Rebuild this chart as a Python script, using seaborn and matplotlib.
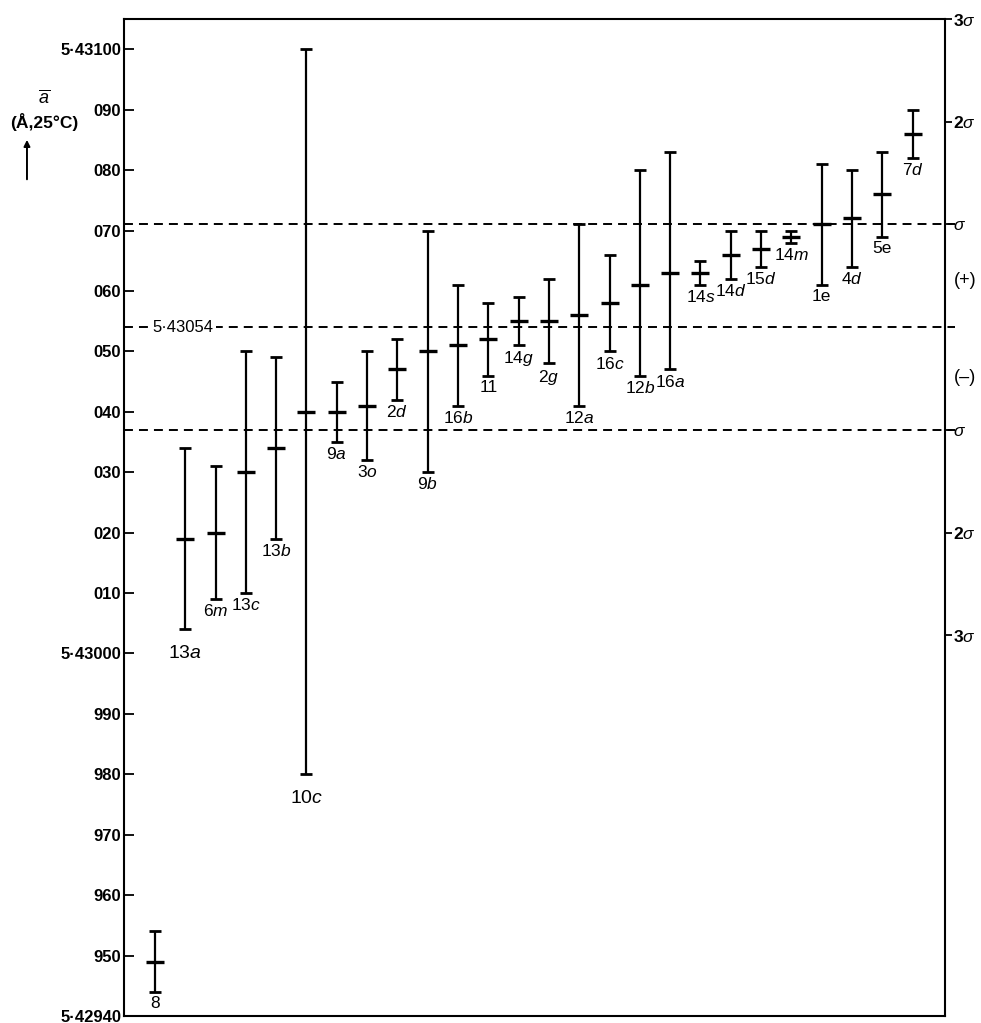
import numpy as np
import pandas as pd
import matplotlib
matplotlib.use("Agg")
import matplotlib.pyplot as plt
import seaborn as sns

# lattice parameter results, in units of 1e-5 A relative to 5.43000
labels = ["8", "13$\\mathit{a}$", "6$\\mathit{m}$", "13$\\mathit{c}$", "13$\\mathit{b}$",
          "10$\\mathit{c}$", "9$\\mathit{a}$", "3$\\mathit{o}$", "2$\\mathit{d}$", "9$\\mathit{b}$",
          "16$\\mathit{b}$", "11", "14$\\mathit{g}$", "2$\\mathit{g}$", "12$\\mathit{a}$",
          "16$\\mathit{c}$", "12$\\mathit{b}$", "16$\\mathit{a}$", "14$\\mathit{s}$", "14$\\mathit{d}$",
          "15$\\mathit{d}$", "14$\\mathit{m}$", "1e", "4$\\mathit{d}$", "5e", "7$\\mathit{d}$"]
mean = [-51, 19, 20, 30, 34, 40, 40, 41, 47, 50, 51, 52, 55, 55, 56, 58, 61, 63, 63, 66, 67, 69, 71, 72, 76, 86]
upper = [-46, 34, 31, 50, 49, 100, 45, 50, 52, 70, 61, 58, 59, 62, 71, 66, 80, 83, 65, 70, 70, 70, 81, 80, 83, 90]
lower = [-56, 4, 9, 10, 19, -20, 35, 32, 42, 30, 41, 46, 51, 48, 41, 50, 46, 47, 61, 62, 64, 68, 61, 64, 69, 82]

ytick_vals = [100, 90, 80, 70, 60, 50, 40, 30, 20, 10, 0, -10, -20, -30, -40, -50, -60]
ytick_labels = ["5·43100", "090", "080", "070", "060", "050", "040", "030", "020", "010",
                "5·43000", "990", "980", "970", "960", "950", "5·42940"]

grand_mean = 54
sigma = 17
sig_vals = [105, 88, 71, 37, 20, 3]
sig_labels = ["3$\\sigma$", "2$\\sigma$", "$\\sigma$", "$\\sigma$", "2$\\sigma$", "3$\\sigma$"]

df = pd.DataFrame({"pos": np.arange(len(mean)), "mean": mean, "upper": upper,
                   "lower": lower, "label": labels})

sns.set_style("white", {"text.color": "black", "axes.edgecolor": "black",
                        "xtick.color": "black", "ytick.color": "black",
                        "axes.labelcolor": "black"})
plt.rcParams["font.family"] = ["Liberation Sans", "DejaVu Sans"]
plt.rcParams["mathtext.fontset"] = "custom"
plt.rcParams["mathtext.rm"] = "Liberation Sans"
plt.rcParams["mathtext.it"] = "Liberation Sans:italic"

fig = plt.figure(figsize=(9.81, 10.23), dpi=100)
ax = fig.add_axes([0.1264, 0.0068, 0.8369, 0.9746])

# error bars
ax.errorbar(df["pos"], df["mean"],
            yerr=[df["mean"] - df["lower"], df["upper"] - df["mean"]],
            fmt="none", ecolor="black", elinewidth=1.6, capsize=4, capthick=2)
sns.scatterplot(data=df, x="pos", y="mean", marker="_", s=180, color="black",
                linewidth=2.4, ax=ax, zorder=3)

# labels under each bar
for i, row in df.iterrows():
    big = row["pos"] in (1, 5)
    ax.annotate(row["label"], xy=(row["pos"], row["lower"]),
                xytext=(0, -11 if big else -3), textcoords="offset points",
                ha="center", va="top", fontsize=14 if big else 12.5, color="black")

# grand mean and +/- sigma lines
for v in [grand_mean + sigma, grand_mean, grand_mean - sigma]:
    ax.axhline(v, xmin=0, xmax=1.012, color="black", lw=1.4,
               dashes=(4.6, 3.1), clip_on=False)
ax.text(-0.08, grand_mean, "5·43054", ha="left", va="center", fontsize=12,
        color="black", bbox=dict(facecolor="white", edgecolor="none", pad=2))

ax.set_xlim(-1.02, 26.07)
ax.set_ylim(-60, 105)
ax.set_xticks([])
ax.set_yticks(ytick_vals)
ax.set_yticklabels(ytick_labels, fontweight="bold", fontsize=12)
ax.tick_params(axis="y", direction="in", length=7, width=1.3, right=True, pad=2,
               colors="black")
ax.set_xlabel("")
ax.set_ylabel("")
for s in ax.spines.values():
    s.set_linewidth(1.5)
    s.set_color("black")

# sigma scale on the right
ax2 = ax.twinx()
ax2.set_ylim(ax.get_ylim())
ax2.set_yticks(sig_vals)
ax2.set_yticklabels(sig_labels, fontsize=12.5, fontweight="bold")
ax2.tick_params(axis="y", direction="out", length=5, width=1.3, pad=1, colors="black")
for s in ax2.spines.values():
    s.set_visible(False)
ax.text(1.011, 61.8, "(+)", transform=ax.get_yaxis_transform(), ha="left",
        va="center", fontsize=13, color="black")
ax.text(1.011, 45.7, "(\u2013)", transform=ax.get_yaxis_transform(), ha="left",
        va="center", fontsize=13, color="black")

# axis label on the left
fig.text(0.0449, 0.904, "$\\overline{a}$", ha="center", va="center", fontsize=13)
fig.text(0.0449, 0.881, "(Å,25°C)", ha="center", va="center", fontsize=12.5, fontweight="bold")
fig.add_artist(matplotlib.patches.FancyArrowPatch(
    (0.0275, 0.822), (0.0275, 0.866), transform=fig.transFigure,
    arrowstyle="-|>", mutation_scale=9, lw=1.4, color="black"))

fig.savefig("out.png", dpi=100)
